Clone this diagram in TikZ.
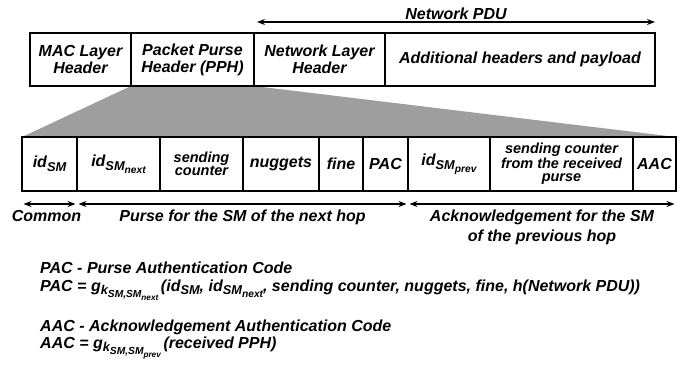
\documentclass[tikz,border=0pt]{standalone}
\usepackage{fontspec}
\usepackage{graphicx}
\setmainfont{Liberation Sans}
\usetikzlibrary{arrows.meta,positioning,backgrounds}

% lowered, shrunk index (nests for SM_next etc.)
\newcommand{\dn}[1]{\raisebox{-0.45ex}{\scalebox{0.8}{#1}}}

\begin{document}
\begin{tikzpicture}[x=1pt,y=-1pt,
  every node/.style={font=\fontsize{16}{17}\selectfont\bfseries\itshape},
  field/.style={draw, line width=1.2pt, outer sep=0pt, inner sep=1pt, align=center},
  upper/.style={field, minimum height=53},
  lower/.style={field, minimum height=54},
  smalltext/.style={font=\fontsize{14.5}{13.5}\selectfont\bfseries\itshape},
  span/.style={{Stealth[length=8pt,width=6pt]}-{Stealth[length=8pt,width=6pt]},
               line width=1.3pt, shorten <=1.5pt, shorten >=1.5pt},
  formula/.style={anchor=base west, inner sep=0pt}]
\useasboundingbox (0,0) rectangle (679,364);

% packet as sent
\node[upper, minimum width=101, anchor=north west] (mac) at (30,33) {MAC Layer\\Header};
\node[upper, minimum width=123, right=0pt of mac] (pph) {Packet Purse\\Header (PPH)};
\node[upper, minimum width=131, right=0pt of pph] (nlh) {Network Layer\\Header};
\node[upper, minimum width=270, right=0pt of nlh] (rest) {Additional headers and payload};

\draw[span, shorten <=0pt, shorten >=0pt] ([xshift=3pt,yshift=11pt]nlh.north west)
  -- node[above, inner sep=2pt] {Network PDU} ([yshift=11pt]rest.north east);

% fields of the PPH
\node[lower, minimum width=55, anchor=north west] (ids) at (22,137) {id\dn{SM}};
\node[lower, minimum width=83, right=0pt of ids] (idnext) {id\dn{SM\dn{next}}};
\node[lower, smalltext, minimum width=83, right=0pt of idnext] (sendcnt) {sending\\counter};
\node[lower, minimum width=76, right=0pt of sendcnt] (nug) {nuggets};
\node[lower, minimum width=44, right=0pt of nug] (fine) {fine};
\node[lower, minimum width=45, right=0pt of fine] (pac) {PAC};
\node[lower, minimum width=82, right=0pt of pac] (idprev) {id\dn{SM\dn{prev}}};
\node[lower, smalltext, minimum width=143, right=0pt of idprev] (recvcnt) {sending counter\\from the received\\purse};
\node[lower, minimum width=43, right=0pt of recvcnt] (aac) {AAC};

\begin{scope}[on background layer]
  \fill[black!38] (pph.south west) -- (pph.south east) -- (aac.north east) -- (ids.north west) -- cycle;
\end{scope}

\draw[span] ([yshift=-13pt]ids.south west) -- node[below=2pt, xshift=-3pt] {Common} ([yshift=-13pt]ids.south east);
\draw[span] ([yshift=-13pt]idnext.south west) -- node[below=2pt] {Purse for the SM of the next hop} ([yshift=-13pt]pac.south east);
\draw[span] ([yshift=-13pt]idprev.south west) -- node[below=2pt, align=center]
  {Acknowledgement for the SM\\[3pt]of the previous hop} ([yshift=-13pt]aac.south east);

% definitions of the two codes
\node[formula] (pacdef) at (40,273) {PAC - Purse Authentication Code};
\node[formula] (paceq) at (40,291) {PAC = g\dn{k\dn{SM,SM\dn{next}}}\,(id\dn{SM}, id\dn{SM\dn{next}}, sending counter, nuggets, fine, h(Network PDU))};
\node[formula] (aacdef) at (40,331) {AAC - Acknowledgement Authentication Code};
\node[formula] (aaceq) at (40,348) {AAC = g\dn{k\dn{SM,SM\dn{prev}}}\,(received PPH)};
\end{tikzpicture}
\end{document}
